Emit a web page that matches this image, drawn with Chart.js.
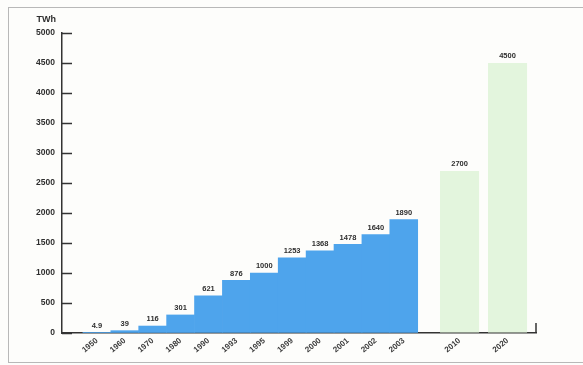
<!DOCTYPE html>
<html>
<head>
<meta charset="utf-8">
<script src="https://cdn.jsdelivr.net/npm/chart.js@4/dist/chart.umd.min.js"></script>
<style>
  html, body { margin: 0; padding: 0; background: #ffffff; }
  #wrap { position: relative; width: 583px; height: 365px; overflow: hidden; background: #fdfdfb; }
  #frame { position: absolute; left: 8px; top: 7px; width: 600px; height: 356px;
           border: 1px solid #b8b8b8; border-right: none; box-sizing: border-box; }
  canvas { position: absolute; left: 0; top: 0; }
</style>
</head>
<body>
<div id="wrap">
  <div id="frame"></div>
  <canvas id="chart" width="583" height="365"></canvas>
</div>
<script>
// Electricity generation, TWh: recorded years and forecasts
const historyYears  = ['1950', '1960', '1970', '1980', '1990', '1993', '1995', '1999', '2000', '2001', '2002', '2003'];
const historyValues = [4.9, 39, 116, 301, 621, 876, 1000, 1253, 1368, 1478, 1640, 1890];
const forecastYears  = ['2010', '2020'];
const forecastValues = [2700, 4500];
const yMax = 5000;
const yStep = 500;

// horizontal slots: recorded years side by side, forecasts after a gap
const historyX  = historyYears.map((_, i) => i);
const forecastX = forecastYears.map((_, j) => historyYears.length + 1 + j * 1.72);
const allX = historyX.concat(forecastX);
const allYears = historyYears.concat(forecastYears);

const textFont = '"Liberation Sans", Arial, sans-serif';
const ink = '#2e2e2e';

const decorations = {
  id: 'decorations',
  afterDraw(chart) {
    const ctx = chart.ctx;
    const y = chart.scales.y;
    const left = chart.chartArea.left, bottom = chart.chartArea.bottom, right = chart.chartArea.right;
    ctx.save();
    ctx.strokeStyle = '#333';
    ctx.lineWidth = 1.5;
    // inward tick marks on the value axis
    y.ticks.forEach((t, i) => {
      const py = Math.round(y.getPixelForTick(i)) + 0.5;
      ctx.beginPath();
      ctx.moveTo(left, py);
      ctx.lineTo(left + 10, py);
      ctx.stroke();
    });
    // closing tick at the end of the year axis
    ctx.beginPath();
    ctx.moveTo(right, bottom);
    ctx.lineTo(right, bottom - 10);
    ctx.stroke();
    // unit caption
    ctx.fillStyle = ink;
    ctx.font = 'bold 9px ' + textFont;
    ctx.textAlign = 'right';
    ctx.textBaseline = 'middle';
    ctx.fillText('TWh', 56, 20);
    // value labels above each bar
    ctx.font = 'bold 7.5px ' + textFont;
    ctx.textAlign = 'center';
    ctx.textBaseline = 'bottom';
    chart.data.datasets.forEach((ds, di) => {
      const meta = chart.getDatasetMeta(di);
      meta.data.forEach((el, i) => {
        ctx.fillText(String(ds.data[i].y), el.x, el.y - 3);
      });
    });
    ctx.restore();
  }
};

new Chart(document.getElementById('chart'), {
  type: 'bar',
  data: {
    datasets: [
      {
        data: historyValues.map((v, i) => ({ x: historyX[i], y: v })),
        backgroundColor: '#4ea4ec',
        borderWidth: 0,
        grouped: false,
        barPercentage: 1,
        categoryPercentage: 1
      },
      {
        data: forecastValues.map((v, i) => ({ x: forecastX[i], y: v })),
        backgroundColor: '#e3f5dd',
        borderWidth: 0,
        grouped: false,
        barPercentage: 1.4,
        categoryPercentage: 1
      }
    ]
  },
  options: {
    responsive: false,
    animation: false,
    layout: { padding: { left: 0, right: 47, top: 33, bottom: 0 } },
    plugins: { legend: { display: false }, tooltip: { enabled: false } },
    scales: {
      x: {
        type: 'linear',
        offset: false,
        min: -1.25,
        max: 15.74,
        afterBuildTicks: s => { s.ticks = allX.map(v => ({ value: v })); },
        afterFit: s => { s.height = 32; },
        grid: { drawOnChartArea: false, drawTicks: false },
        border: { display: true, color: '#333', width: 1.5 },
        ticks: {
          autoSkip: false,
          minRotation: 40,
          maxRotation: 40,
          padding: 3,
          color: '#3a3a3a',
          font: { family: textFont, size: 8, weight: 'bold' },
          callback: (v, i) => allYears[i]
        }
      },
      y: {
        min: 0,
        max: yMax,
        afterFit: s => { s.width = 62; },
        grid: { drawOnChartArea: false, drawTicks: false },
        border: { display: true, color: '#333', width: 1.5 },
        ticks: {
          stepSize: yStep,
          padding: 7,
          color: ink,
          font: { family: textFont, size: 8.5, weight: 'bold' },
          callback: v => String(v)
        }
      }
    }
  },
  plugins: [decorations]
});
</script>
</body>
</html>
